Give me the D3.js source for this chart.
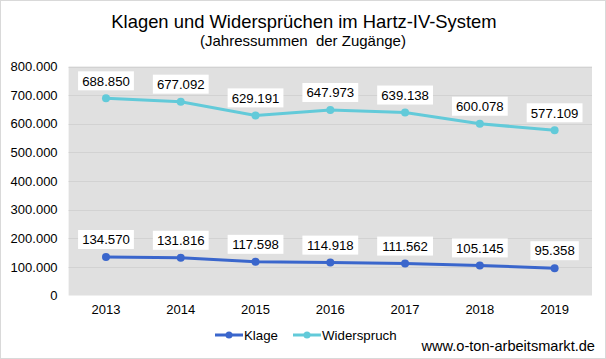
<!DOCTYPE html>
<html><head><meta charset="utf-8">
<script src="https://cdn.jsdelivr.net/npm/d3@7/dist/d3.min.js"></script>
<style>body{margin:0;background:#fff}text{font-family:"Liberation Sans",Arial,sans-serif}</style>
</head><body><svg id="c" width="606" height="359"></svg>
<script>
const years = ["2013","2014","2015","2016","2017","2018","2019"];
const klage = [134570,131816,117598,114918,111562,105145,95358];
const widerspruch = [688850,677092,629191,647973,639138,600078,577109];
const yTicks = [0,100000,200000,300000,400000,500000,600000,700000,800000];
const seriesNames = ["Klage","Widerspruch"];
const colors = ["#3A66CC","#62CAD9"];

const svg = d3.select("#c");
svg.append("rect").attr("x",0.5).attr("y",0.5).attr("width",605).attr("height",358).attr("fill","#fff").attr("stroke","#d9d9d9");

const m = {l:68.6, r:592, t:66.5, b:295.5};
const x = d3.scaleBand().domain(years).range([m.l,m.r]);
const y = d3.scaleLinear().domain([0,800000]).range([m.b,m.t]);
const fmt = v => d3.format(",")(v).replace(/,/g,".");

svg.append("rect").attr("x",m.l).attr("y",m.t).attr("width",m.r-m.l).attr("height",m.b-m.t).attr("fill","#e0e0e0");
svg.append("g").selectAll("line").data(yTicks.slice(1)).join("line")
  .attr("x1",m.l).attr("x2",m.r).attr("y1",d=>Math.round(y(d))+0.5).attr("y2",d=>Math.round(y(d))+0.5)
  .attr("stroke","#d2d2d2");

// axes
const ya = svg.append("g").attr("transform",`translate(${m.l},0)`)
  .call(d3.axisLeft(y).tickValues(yTicks).tickFormat(fmt).tickSize(0).tickPadding(11));
ya.select(".domain").remove();
ya.selectAll("text").attr("font-size",13).attr("fill","#000").attr("font-family","Liberation Sans, Arial");
const xa = svg.append("g").attr("transform",`translate(0,${m.b})`)
  .call(d3.axisBottom(x).tickSize(0).tickPadding(9));
xa.select(".domain").remove();
xa.selectAll("text").attr("font-size",13).attr("fill","#000").attr("font-family","Liberation Sans, Arial");

const line = d3.line().x((d,i)=>x(years[i])+x.bandwidth()/2).y(d=>y(d));
[klage,widerspruch].forEach((s,k)=>{
  svg.append("path").datum(s).attr("d",line).attr("fill","none").attr("stroke",colors[k]).attr("stroke-width",3);
  svg.append("g").selectAll("circle").data(s).join("circle")
    .attr("cx",(d,i)=>x(years[i])+x.bandwidth()/2).attr("cy",d=>y(d)).attr("r",4).attr("fill",colors[k]);
  const g = svg.append("g").selectAll("g").data(s).join("g")
    .attr("transform",(d,i)=>`translate(${x(years[i])+x.bandwidth()/2},${y(d)-17.5})`);
  g.append("rect").attr("x",d=>-(fmt(d).length*7.4+4)/2).attr("y",-9.5).attr("width",d=>fmt(d).length*7.4+4).attr("height",19).attr("fill","#fff");
  g.append("text").attr("text-anchor","middle").attr("dy","0.36em").attr("font-size",13.2).text(d=>fmt(d));
});

// title
svg.append("text").attr("x",304).attr("y",27.5).attr("text-anchor","middle").attr("font-size",18.4).text("Klagen und Widersprüchen im Hartz-IV-System");
svg.append("text").attr("x",303).attr("y",46).attr("text-anchor","middle").attr("font-size",15)
  .style("white-space","pre").text("(Jahressummen  der Zugänge)");

// legend
const lg = svg.append("g").selectAll("g").data(seriesNames).join("g")
  .attr("transform",(d,i)=>`translate(${[215,293][i]},335)`);
lg.append("line").attr("x1",0).attr("x2",28).attr("stroke",(d,i)=>colors[i]).attr("stroke-width",3);
lg.append("circle").attr("cx",14).attr("r",3.5).attr("fill",(d,i)=>colors[i]);
lg.append("text").attr("x",29).attr("dy","0.35em").attr("font-size",13.3).text(d=>d);

svg.append("text").attr("x",595).attr("y",351).attr("text-anchor","end").attr("font-size",14.6).text("www.o-ton-arbeitsmarkt.de");
</script></body></html>
